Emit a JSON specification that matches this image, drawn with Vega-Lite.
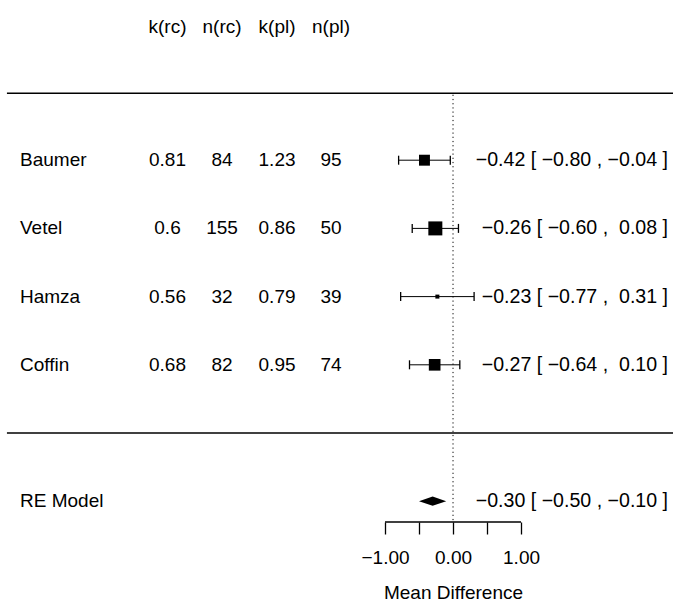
{
  "$schema": "https://vega.github.io/schema/vega-lite/v6.json",
  "width": 673,
  "height": 602,
  "autosize": {"type": "none"},
  "padding": 0,
  "background": "white",
  "config": {
    "view": {"stroke": null},
    "text": {"font": "Liberation Sans", "fontSize": 19, "color": "black", "baseline": "middle"}
  },
  "resolve": {"axis": {"x": "independent", "y": "independent"}},
  "datasets": {
    "studies": [
      {"study": "Baumer", "row": 4, "k_rc": 0.81, "n_rc": 84, "k_pl": 1.23, "n_pl": 95, "yi": -0.42, "ci_lb": -0.80, "ci_ub": -0.04, "weight": 26.3, "ci_text": "−0.42 [ −0.80 , −0.04 ]"},
      {"study": "Vetel", "row": 3, "k_rc": 0.6, "n_rc": 155, "k_pl": 0.86, "n_pl": 50, "yi": -0.26, "ci_lb": -0.60, "ci_ub": 0.08, "weight": 32.8, "ci_text": "−0.26 [ −0.60 ,\u00a0\u00a00.08 ]"},
      {"study": "Hamza", "row": 2, "k_rc": 0.56, "n_rc": 32, "k_pl": 0.79, "n_pl": 39, "yi": -0.23, "ci_lb": -0.77, "ci_ub": 0.31, "weight": 13.0, "ci_text": "−0.23 [ −0.77 ,\u00a0\u00a00.31 ]"},
      {"study": "Coffin", "row": 1, "k_rc": 0.68, "n_rc": 82, "k_pl": 0.95, "n_pl": 74, "yi": -0.27, "ci_lb": -0.64, "ci_ub": 0.10, "weight": 27.8, "ci_text": "−0.27 [ −0.64 ,\u00a0\u00a00.10 ]"}
    ],
    "summary": [
      {"model": "RE Model", "row": -1, "est": -0.30, "ci_lb": -0.50, "ci_ub": -0.10, "ci_text": "−0.30 [ −0.50 , −0.10 ]"}
    ],
    "one": [{}]
  },
  "data": {"name": "studies"},
  "layer": [
    {
      "data": {"name": "one"},
      "mark": {"type": "rule", "color": "black", "strokeWidth": 1.5},
      "encoding": {
        "x": {"datum": -6.56, "type": "quantitative", "axis": null, "scale": {"domain": [-6.662, 3.235], "nice": false, "zero": false}},
        "x2": {"datum": 3.235},
        "y": {"datum": 4.98, "type": "quantitative", "axis": null, "scale": {"domain": [-2.478, 6.349], "nice": false, "zero": false}}
      }
    },
    {
      "data": {"name": "one"},
      "mark": {"type": "rule", "color": "black", "strokeWidth": 1.5},
      "encoding": {
        "x": {"datum": -6.56, "type": "quantitative", "axis": null, "scale": {"domain": [-6.662, 3.235], "nice": false, "zero": false}},
        "x2": {"datum": 3.235},
        "y": {"datum": 0, "type": "quantitative", "axis": null, "scale": {"domain": [-2.478, 6.349], "nice": false, "zero": false}}
      }
    },
    {
      "data": {"name": "one"},
      "mark": {"type": "rule", "color": "black", "strokeWidth": 1, "strokeDash": [1.2, 3]},
      "encoding": {
        "x": {"datum": 0, "type": "quantitative", "axis": null, "scale": {"domain": [-6.662, 3.235], "nice": false, "zero": false}},
        "y": {"datum": 4.96, "type": "quantitative", "axis": null, "scale": {"domain": [-2.478, 6.349], "nice": false, "zero": false}},
        "y2": {"datum": -1.305}
      }
    },
    {
      "data": {"name": "one"},
      "mark": {"type": "rule", "color": "black", "strokeWidth": 1.3},
      "encoding": {
        "x": {
          "datum": -1, "type": "quantitative",
          "scale": {"domain": [-6.662, 3.235], "nice": false, "zero": false},
          "axis": {
            "orient": "bottom", "offset": -80, "domain": false, "grid": false,
            "values": [-1, -0.5, 0, 0.5, 1], "format": ".2f",
            "labelExpr": "abs(datum.value) == 0.5 ? '' : datum.label",
            "tickSize": 12, "tickWidth": 1.3, "tickColor": "black",
            "labelFont": "Liberation Sans", "labelFontSize": 19, "labelColor": "black",
            "labelPadding": 14, "labelOverlap": false, "labelBound": false, "labelFlush": false,
            "title": "Mean Difference", "titleFont": "Liberation Sans", "titleFontSize": 19,
            "titleFontWeight": "normal", "titleColor": "black",
            "titleX": 453, "titleY": 76, "titleBaseline": "alphabetic", "titleAlign": "center"
          }
        },
        "x2": {"datum": 1},
        "y": {"datum": -1.305, "type": "quantitative", "axis": null, "scale": {"domain": [-2.478, 6.349], "nice": false, "zero": false}}
      }
    },
    {
      "data": {"name": "one"},
      "mark": {"type": "text", "align": "center", "dy": 3},
      "encoding": {
        "x": {"datum": -4.199, "type": "quantitative", "axis": null, "scale": {"domain": [-6.662, 3.235], "nice": false, "zero": false}},
        "y": {"datum": 6, "type": "quantitative", "axis": null, "scale": {"domain": [-2.478, 6.349], "nice": false, "zero": false}},
        "text": {"value": "k(rc)"}
      }
    },
    {
      "data": {"name": "one"},
      "mark": {"type": "text", "align": "center", "dy": 3},
      "encoding": {
        "x": {"datum": -3.397, "type": "quantitative", "axis": null, "scale": {"domain": [-6.662, 3.235], "nice": false, "zero": false}},
        "y": {"datum": 6, "type": "quantitative", "axis": null, "scale": {"domain": [-2.478, 6.349], "nice": false, "zero": false}},
        "text": {"value": "n(rc)"}
      }
    },
    {
      "data": {"name": "one"},
      "mark": {"type": "text", "align": "center", "dy": 3},
      "encoding": {
        "x": {"datum": -2.588, "type": "quantitative", "axis": null, "scale": {"domain": [-6.662, 3.235], "nice": false, "zero": false}},
        "y": {"datum": 6, "type": "quantitative", "axis": null, "scale": {"domain": [-2.478, 6.349], "nice": false, "zero": false}},
        "text": {"value": "k(pl)"}
      }
    },
    {
      "data": {"name": "one"},
      "mark": {"type": "text", "align": "center", "dy": 3},
      "encoding": {
        "x": {"datum": -1.794, "type": "quantitative", "axis": null, "scale": {"domain": [-6.662, 3.235], "nice": false, "zero": false}},
        "y": {"datum": 6, "type": "quantitative", "axis": null, "scale": {"domain": [-2.478, 6.349], "nice": false, "zero": false}},
        "text": {"value": "n(pl)"}
      }
    },
    {
      "mark": {"type": "text", "align": "left"},
      "encoding": {
        "x": {"datum": -6.368, "type": "quantitative", "axis": null, "scale": {"domain": [-6.662, 3.235], "nice": false, "zero": false}},
        "y": {"field": "row", "type": "quantitative", "axis": null, "scale": {"domain": [-2.478, 6.349], "nice": false, "zero": false}},
        "text": {"field": "study", "type": "nominal"}
      }
    },
    {
      "mark": {"type": "text", "align": "center"},
      "encoding": {
        "x": {"datum": -4.199, "type": "quantitative", "axis": null, "scale": {"domain": [-6.662, 3.235], "nice": false, "zero": false}},
        "y": {"field": "row", "type": "quantitative", "axis": null, "scale": {"domain": [-2.478, 6.349], "nice": false, "zero": false}},
        "text": {"field": "k_rc", "type": "nominal"}
      }
    },
    {
      "mark": {"type": "text", "align": "center"},
      "encoding": {
        "x": {"datum": -3.397, "type": "quantitative", "axis": null, "scale": {"domain": [-6.662, 3.235], "nice": false, "zero": false}},
        "y": {"field": "row", "type": "quantitative", "axis": null, "scale": {"domain": [-2.478, 6.349], "nice": false, "zero": false}},
        "text": {"field": "n_rc", "type": "nominal"}
      }
    },
    {
      "mark": {"type": "text", "align": "center"},
      "encoding": {
        "x": {"datum": -2.588, "type": "quantitative", "axis": null, "scale": {"domain": [-6.662, 3.235], "nice": false, "zero": false}},
        "y": {"field": "row", "type": "quantitative", "axis": null, "scale": {"domain": [-2.478, 6.349], "nice": false, "zero": false}},
        "text": {"field": "k_pl", "type": "nominal"}
      }
    },
    {
      "mark": {"type": "text", "align": "center"},
      "encoding": {
        "x": {"datum": -1.794, "type": "quantitative", "axis": null, "scale": {"domain": [-6.662, 3.235], "nice": false, "zero": false}},
        "y": {"field": "row", "type": "quantitative", "axis": null, "scale": {"domain": [-2.478, 6.349], "nice": false, "zero": false}},
        "text": {"field": "n_pl", "type": "nominal"}
      }
    },
    {
      "mark": {"type": "text", "align": "right", "fontSize": 19.6},
      "encoding": {
        "x": {"datum": 3.162, "type": "quantitative", "axis": null, "scale": {"domain": [-6.662, 3.235], "nice": false, "zero": false}},
        "y": {"field": "row", "type": "quantitative", "axis": null, "scale": {"domain": [-2.478, 6.349], "nice": false, "zero": false}},
        "text": {"field": "ci_text", "type": "nominal"}
      }
    },
    {
      "mark": {"type": "rule", "color": "black", "strokeWidth": 1},
      "encoding": {
        "x": {"field": "ci_lb", "type": "quantitative", "axis": null, "scale": {"domain": [-6.662, 3.235], "nice": false, "zero": false}},
        "x2": {"field": "ci_ub"},
        "y": {"field": "row", "type": "quantitative", "axis": null, "scale": {"domain": [-2.478, 6.349], "nice": false, "zero": false}}
      }
    },
    {
      "mark": {"type": "point", "shape": "M0,-1L0,1", "size": 81, "filled": false, "color": "black", "strokeWidth": 1.3, "opacity": 1},
      "encoding": {
        "x": {"field": "ci_lb", "type": "quantitative", "axis": null, "scale": {"domain": [-6.662, 3.235], "nice": false, "zero": false}},
        "y": {"field": "row", "type": "quantitative", "axis": null, "scale": {"domain": [-2.478, 6.349], "nice": false, "zero": false}}
      }
    },
    {
      "mark": {"type": "point", "shape": "M0,-1L0,1", "size": 81, "filled": false, "color": "black", "strokeWidth": 1.3, "opacity": 1},
      "encoding": {
        "x": {"field": "ci_ub", "type": "quantitative", "axis": null, "scale": {"domain": [-6.662, 3.235], "nice": false, "zero": false}},
        "y": {"field": "row", "type": "quantitative", "axis": null, "scale": {"domain": [-2.478, 6.349], "nice": false, "zero": false}}
      }
    },
    {
      "mark": {"type": "point", "shape": "square", "filled": true, "color": "black", "opacity": 1, "strokeWidth": 0},
      "encoding": {
        "x": {"field": "yi", "type": "quantitative", "axis": null, "scale": {"domain": [-6.662, 3.235], "nice": false, "zero": false}},
        "y": {"field": "row", "type": "quantitative", "axis": null, "scale": {"domain": [-2.478, 6.349], "nice": false, "zero": false}},
        "size": {"field": "weight", "type": "quantitative", "legend": null, "scale": {"type": "pow", "exponent": 2, "domain": [13, 32.8], "range": [16, 196], "zero": false}}
      }
    },
    {
      "data": {"name": "summary"},
      "mark": {"type": "text", "align": "left"},
      "encoding": {
        "x": {"datum": -6.368, "type": "quantitative", "axis": null, "scale": {"domain": [-6.662, 3.235], "nice": false, "zero": false}},
        "y": {"field": "row", "type": "quantitative", "axis": null, "scale": {"domain": [-2.478, 6.349], "nice": false, "zero": false}},
        "text": {"field": "model", "type": "nominal"}
      }
    },
    {
      "data": {"name": "summary"},
      "mark": {"type": "text", "align": "right", "fontSize": 19.6},
      "encoding": {
        "x": {"datum": 3.162, "type": "quantitative", "axis": null, "scale": {"domain": [-6.662, 3.235], "nice": false, "zero": false}},
        "y": {"field": "row", "type": "quantitative", "axis": null, "scale": {"domain": [-2.478, 6.349], "nice": false, "zero": false}},
        "text": {"field": "ci_text", "type": "nominal"}
      }
    },
    {
      "data": {"name": "summary"},
      "mark": {"type": "point", "shape": "M-1,0L0,-0.34L1,0L0,0.34Z", "size": 740, "filled": true, "color": "black", "opacity": 1, "strokeWidth": 0},
      "encoding": {
        "x": {"field": "est", "type": "quantitative", "axis": null, "scale": {"domain": [-6.662, 3.235], "nice": false, "zero": false}},
        "y": {"field": "row", "type": "quantitative", "axis": null, "scale": {"domain": [-2.478, 6.349], "nice": false, "zero": false}}
      }
    }
  ]
}
